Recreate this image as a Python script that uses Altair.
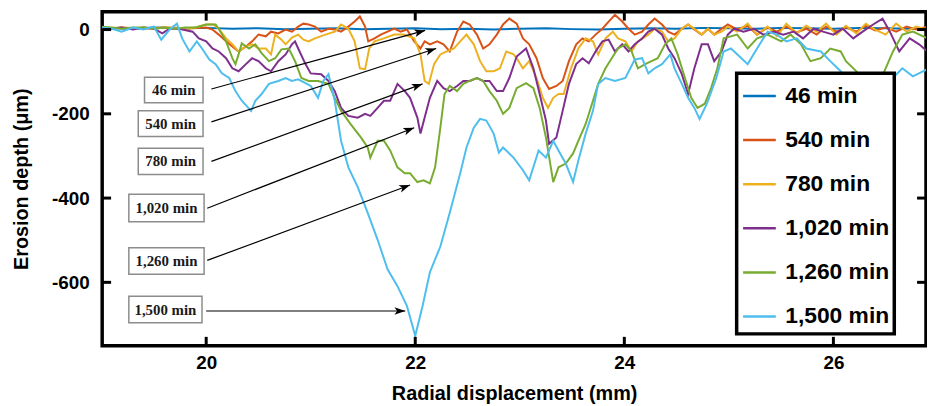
import math
import altair as alt
import pandas as pd

# ---------------- data ----------------
series_names = ["46 min", "540 min", "780 min", "1,020 min", "1,260 min", "1,500 min"]
series_colors = ["#0072BD", "#D95319", "#EDB120", "#7E2F8E", "#77AC30", "#4DBEEE"]

x46 = [19.0, 19.25, 19.5, 19.75, 20.0, 20.25, 20.5, 20.75, 21.0, 21.25, 21.5, 21.75, 22.0, 22.25, 22.5,
       22.75, 23.0, 23.25, 23.5, 23.75, 24.0, 24.25, 24.5, 24.75, 25.0, 25.25, 25.5, 25.75, 26.0, 26.25,
       26.5, 26.75, 26.9]
y46 = [4, 2, 5, 3, 4, 2, 3, 1, 2, 3, 1, 2, 3, 1, 2, 0, 2, 3, 1, 0, 2, 3, 2, 4, 3, 2, 4, 3, 2, 4, 3, 2, 3]

x540 = [19.00, 19.19, 19.40, 19.60, 19.80, 20.00, 20.06, 20.12, 20.19, 20.25, 20.31, 20.38, 20.44, 20.50,
        20.57, 20.62, 20.69, 20.76, 20.82, 20.88, 20.93, 20.98, 21.04, 21.10, 21.17, 21.23, 21.29, 21.36,
        21.42, 21.47, 21.52, 21.55, 21.61, 21.67, 21.735, 21.80, 21.86, 21.92, 21.99, 22.05, 22.09, 22.14,
        22.21, 22.27, 22.33, 22.40, 22.46, 22.52, 22.59, 22.65, 22.71, 22.78, 22.84, 22.90, 22.97, 23.03,
        23.09, 23.16, 23.22, 23.28, 23.35, 23.41, 23.47, 23.54, 23.60, 23.66, 23.725, 23.79, 23.85, 23.91,
        23.98, 24.04, 24.10, 24.17, 24.23, 24.29, 24.36, 24.42, 24.48, 24.55, 24.61, 24.67, 24.74, 24.80,
        24.86, 24.93, 24.99, 25.08, 25.18, 25.27, 25.37, 25.46, 25.55, 25.65, 25.74, 25.84, 25.93, 26.03,
        26.12, 26.22, 26.31, 26.40, 26.50, 26.60, 26.70, 26.79, 26.90]
y540 = [2, 5, 2, 5, 2, 5, 0, -12, -28, -40, -52, -40, -28, -12, -16, -5, -9, 0, -5, 7, 14, 12, 7, -5, 2, 0,
        -5, 7, 19, 31, 7, -28, -21, -12, -5, 2, -5, 0, -28, -45, -28, -35, -28, -35, -52, -5, 19, 12, -12,
        -45, -35, -12, 12, 26, 14, -21, -35, -68, -115, -141, -134, -122, -75, -35, -21, -28, -12, 2, 19,
        35, 19, 2, -12, -5, 12, 26, 12, -5, -12, 2, 12, 0, -12, 2, -12, 2, 12, 0, 9, -12, 5, -5, 7, -7, 2,
        -12, 7, -5, 5, -5, 9, -2, 5, -5, 7, 0, 7]

x780 = [19.00, 19.10, 19.19, 19.30, 19.40, 19.50, 19.60, 19.70, 19.80, 19.90, 20.00, 20.07, 20.12, 20.19,
        20.25, 20.31, 20.38, 20.44, 20.50, 20.57, 20.62, 20.66, 20.72, 20.76, 20.82, 20.88, 20.93, 20.98,
        21.04, 21.14, 21.23, 21.29, 21.36, 21.42, 21.47, 21.52, 21.56, 21.61, 21.70, 21.80, 21.89, 21.99,
        22.05, 22.09, 22.13, 22.18, 22.24, 22.30, 22.37, 22.43, 22.49, 22.56, 22.62, 22.68, 22.75, 22.81,
        22.87, 22.94, 22.97, 23.03, 23.09, 23.16, 23.22, 23.27, 23.32, 23.37, 23.42, 23.49, 23.56, 23.63,
        23.70, 23.75, 23.82, 23.89, 23.94, 24.01, 24.07, 24.13, 24.23, 24.29, 24.36, 24.42, 24.48, 24.55,
        24.61, 24.67, 24.74, 24.80, 24.86, 24.93, 24.99, 25.08, 25.18, 25.27, 25.37, 25.46, 25.55, 25.65,
        25.74, 25.84, 25.93, 26.03, 26.12, 26.22, 26.31, 26.40, 26.50, 26.60, 26.70, 26.79, 26.90]
y780 = [5, 2, 5, 2, 5, 2, 5, 5, 2, 5, 12, 12, 2, -21, -35, -52, -40, -35, -45, -45, -59, -12, -24, -35, -19,
        -12, -24, -28, -21, -12, -5, 12, 2, -28, -92, -94, -45, -28, -21, -12, -12, -21, -59, -122, -129,
        -82, -59, -52, -45, -28, -12, -35, -75, -99, -99, -92, -52, -59, -68, -92, -75, -115, -162, -186,
        -162, -153, -153, -92, -45, -21, -28, -59, -21, -5, -21, -28, -52, -28, -12, 2, -5, -28, -21, 2, 12,
        2, -12, 2, -12, -5, 7, -5, 14, -12, 7, -16, 14, -9, 9, -5, 14, -12, 9, -9, 14, 0, -12, 14, -5, 7, 0]

x1020 = [19.00, 19.10, 19.19, 19.30, 19.40, 19.50, 19.58, 19.65, 19.74, 19.87, 19.93, 20.00, 20.06, 20.12,
         20.19, 20.25, 20.31, 20.38, 20.44, 20.50, 20.57, 20.62, 20.69, 20.76, 20.82, 20.85, 20.88, 20.95,
         21.00, 21.10, 21.17, 21.23, 21.29, 21.36, 21.45, 21.52, 21.57, 21.64, 21.70, 21.76, 21.83, 21.90,
         21.95, 22.02, 22.05, 22.09, 22.14, 22.21, 22.27, 22.33, 22.40, 22.46, 22.52, 22.59, 22.65, 22.71,
         22.78, 22.84, 22.90, 22.97, 23.06, 23.13, 23.19, 23.25, 23.28, 23.35, 23.41, 23.47, 23.54, 23.60,
         23.66, 23.725, 23.79, 23.85, 23.91, 23.98, 24.04, 24.10, 24.17, 24.23, 24.29, 24.36, 24.42, 24.48,
         24.55, 24.61, 24.67, 24.74, 24.80, 24.86, 24.93, 24.99, 25.05, 25.14, 25.24, 25.33, 25.43, 25.52,
         25.62, 25.71, 25.81, 25.90, 26.00, 26.09, 26.19, 26.28, 26.38, 26.47, 26.54, 26.63, 26.73, 26.82,
         26.90]
y1020 = [5, 2, 5, 0, 5, 2, -9, 2, 2, -5, -21, -28, -45, -52, -68, -92, -99, -82, -68, -75, -92, -99, -75,
         -59, -35, -28, -45, -82, -104, -106, -122, -146, -186, -205, -209, -200, -205, -186, -169, -169,
         -129, -146, -162, -209, -247, -209, -162, -122, -139, -146, -134, -122, -122, -115, -122, -122,
         -146, -146, -115, -64, -45, -92, -153, -216, -271, -256, -193, -129, -82, -68, -80, -52, -28, -24,
         -52, -35, -52, -35, -21, -5, 2, -12, -45, -68, -106, -153, -92, -35, -35, -75, -52, -12, 2, -5, 2,
         -12, -5, -12, -5, -21, 2, -5, -12, 2, -21, -5, 12, 26, -5, -52, -21, -35, -52]

x1260 = [19.00, 19.10, 19.19, 19.30, 19.40, 19.50, 19.60, 19.70, 19.80, 19.90, 20.00, 20.09, 20.12, 20.19,
         20.25, 20.28, 20.31, 20.34, 20.41, 20.47, 20.53, 20.60, 20.66, 20.72, 20.79, 20.85, 20.91, 20.98,
         21.07, 21.17, 21.23, 21.29, 21.38, 21.48, 21.545, 21.57, 21.64, 21.70, 21.76, 21.83, 21.90, 21.95,
         22.02, 22.08, 22.14, 22.19, 22.24, 22.28, 22.33, 22.40, 22.46, 22.52, 22.59, 22.65, 22.71, 22.78,
         22.84, 22.90, 22.97, 23.06, 23.13, 23.19, 23.25, 23.32, 23.37, 23.44, 23.51, 23.56, 23.63, 23.70,
         23.75, 23.82, 23.89, 23.94, 24.01, 24.07, 24.13, 24.20, 24.26, 24.32, 24.39, 24.45, 24.51, 24.58,
         24.64, 24.70, 24.77, 24.83, 24.89, 24.95, 25.08, 25.18, 25.27, 25.37, 25.50, 25.59, 25.69, 25.78,
         25.88, 25.97, 26.07, 26.12, 26.22, 26.33, 26.45, 26.50, 26.57, 26.66, 26.76, 26.90]
y1260 = [7, 5, 2, 5, 5, 2, 5, 2, 5, 5, 12, 12, 2, -28, -68, -82, -59, -33, -45, -35, -56, -75, -68, -47,
         -45, -75, -115, -122, -122, -129, -162, -193, -224, -256, -280, -304, -264, -264, -287, -327, -341,
         -341, -362, -358, -365, -327, -233, -153, -134, -146, -129, -122, -115, -122, -146, -169, -200,
         -186, -139, -127, -139, -186, -256, -362, -327, -318, -294, -264, -224, -169, -129, -92, -64, -45,
         -35, -52, -92, -82, -75, -68, -35, -21, -59, -115, -162, -186, -176, -139, -92, -21, -12, -45, -21,
         -12, -28, -12, -35, -75, -68, -45, -52, -75, -99, -140, -120, -92, -52, -12, -5, -21]

x1500 = [19.00, 19.10, 19.19, 19.30, 19.40, 19.50, 19.57, 19.65, 19.72, 19.77, 19.84, 19.91, 19.96, 20.03,
         20.09, 20.15, 20.22, 20.28, 20.34, 20.43, 20.47, 20.53, 20.60, 20.69, 20.76, 20.82, 20.88, 20.95,
         21.00, 21.07, 21.12, 21.17, 21.23, 21.29, 21.36, 21.45, 21.545, 21.64, 21.735, 21.83, 21.92, 22.00,
         22.07, 22.14, 22.24, 22.33, 22.43, 22.49, 22.56, 22.62, 22.68, 22.75, 22.80, 22.84, 22.94, 23.03,
         23.09, 23.18, 23.25, 23.32, 23.37, 23.44, 23.51, 23.56, 23.63, 23.70, 23.75, 23.82, 23.91, 24.01,
         24.10, 24.17, 24.23, 24.29, 24.36, 24.44, 24.48, 24.55, 24.61, 24.67, 24.72, 24.79, 24.88, 24.95,
         25.02, 25.12, 25.18, 25.27, 25.37, 25.46, 25.55, 25.65, 25.74, 25.88, 25.97, 26.07, 26.14, 26.28,
         26.42, 26.54, 26.66, 26.76, 26.90]
y1500 = [5, 2, -5, 5, 0, 7, -24, 0, 14, -21, -52, -28, -45, -71, -82, -104, -115, -146, -169, -193, -169,
         -153, -129, -122, -115, -122, -118, -127, -134, -162, -122, -106, -169, -264, -327, -374, -435,
         -499, -569, -609, -656, -727, -656, -576, -515, -435, -341, -280, -233, -212, -216, -247, -292,
         -280, -304, -334, -358, -287, -304, -264, -287, -318, -362, -311, -247, -193, -129, -115, -122,
         -115, -71, -68, -104, -92, -82, -59, -92, -129, -162, -186, -212, -176, -115, -52, -45, -68, -82,
         -45, -5, -12, -28, -21, -45, -52, -75, -99, -122, -170, -150, -122, -92, -111, -94]

x_ticks = [20, 22, 24, 26]
y_ticks = [0, -200, -400, -600]

# annotation boxes and arrows (data coordinates)
ann_labels = ["46 min", "540 min", "780 min", "1,020 min", "1,260 min", "1,500 min"]
box_x1 = [19.41, 19.35, 19.35, 19.26, 19.26, 19.26]
box_x2 = [19.97, 19.97, 19.97, 19.98, 19.98, 19.96]
box_y1 = [-113, -193, -282, -391, -518, -633]
box_y2 = [-174, -254, -344, -456, -581, -696]
label_x = [19.69, 19.66, 19.66, 19.62, 19.62, 19.61]
label_y = [-144, -224, -313, -424, -549, -665]
tail_x = [20.05, 20.05, 20.05, 20.01, 20.01, 20.00]
tail_y = [-141, -219, -313, -424, -548, -668]
tip_x = [22.095, 22.20, 22.07, 21.99, 21.95, 21.905]
tip_y = [-2, -45, -129, -233, -369, -668]

# ---------------- layout ----------------
W, H = 831, 337
X_DOMAIN = [19.005, 26.886]
Y_DOMAIN = [-750.6, 42.4]

all_x = [x46, x540, x780, x1020, x1260, x1500]
all_y = [y46, y540, y780, y1020, y1260, y1500]
frames = []
for name, xs, ys in zip(series_names, all_x, all_y):
    frames.append(pd.DataFrame({"x": xs, "y": ys, "series": name}))
df = pd.concat(frames, ignore_index=True)

sx = W / (X_DOMAIN[1] - X_DOMAIN[0])
sy = H / (Y_DOMAIN[1] - Y_DOMAIN[0])
angles = []
for a, b, c, d in zip(tail_x, tail_y, tip_x, tip_y):
    angles.append(math.degrees(math.atan2(-(d - b) * sy, (c - a) * sx)) % 360)

ann = pd.DataFrame({
    "label": ann_labels, "bx1": box_x1, "bx2": box_x2, "by1": box_y1, "by2": box_y2,
    "tx": label_x, "ty": label_y, "ax1": tail_x, "ay1": tail_y, "ax2": tip_x, "ay2": tip_y,
    "ang": angles,
})

xscale = alt.Scale(domain=X_DOMAIN, nice=False, zero=False)
yscale = alt.Scale(domain=Y_DOMAIN, nice=False, zero=False)
xaxis = alt.Axis(values=x_ticks, title="Radial displacement (mm)", labelExpr="datum.value + ''")
yaxis = alt.Axis(values=y_ticks, title="Erosion depth (μm)", labelExpr="datum.value + ''")


def X(field):
    return alt.X(field, type="quantitative", scale=xscale, axis=xaxis)


def Y(field):
    return alt.Y(field, type="quantitative", scale=yscale, axis=yaxis)


nb = "\u00a0" * 4
lines = alt.Chart(df).mark_line(strokeWidth=2, clip=True).encode(
    x=X("x"),
    y=Y("y"),
    color=alt.Color(
        "series:N",
        scale=alt.Scale(domain=series_names, range=series_colors),
        legend=alt.Legend(
            orient="none", legendX=640, legendY=62, title=None,
            symbolType="stroke", symbolSize=1089, symbolStrokeWidth=2.5,
            labelFont="Liberation Sans", labelFontWeight="bold", labelFontSize=23,
            labelColor="black", labelOffset=8, padding=5, rowPadding=14.5,
            fillColor="white", strokeColor="black",
            labelExpr="datum.label + '" + nb + "'",
        ),
    ),
)

boxes = alt.Chart(ann).mark_rect(fill="white", stroke="#8c8c8c", strokeWidth=1.5).encode(
    x=X("bx1"), x2="bx2", y=Y("by1"), y2="by2"
)
texts = alt.Chart(ann).mark_text(
    font="Liberation Serif", fontWeight="bold", fontSize=15, color="#1a1a1a", baseline="middle", align="center"
).encode(x=X("tx"), y=Y("ty"), text="label:N")
arrows = alt.Chart(ann).mark_rule(color="black", strokeWidth=1.2).encode(
    x=X("ax1"), y=Y("ay1"), x2="ax2", y2="ay2"
)
heads = alt.Chart(ann).mark_point(
    shape="M0,0L-2,-0.7L-1.5,0L-2,0.7Z", filled=True, size=121, color="black", opacity=1
).encode(x=X("ax2"), y=Y("ay2"), angle=alt.Angle("ang:Q", scale=None))

xt = pd.DataFrame({"t": x_ticks})
yt = pd.DataFrame({"t": y_ticks})
tick_b = alt.Chart(xt).mark_rule(color="black", strokeWidth=3).encode(x=X("t"), y=alt.value(H), y2=alt.value(H - 9))
tick_t = alt.Chart(xt).mark_rule(color="black", strokeWidth=3).encode(x=X("t"), y=alt.value(0), y2=alt.value(9))
tick_l = alt.Chart(yt).mark_rule(color="black", strokeWidth=3).encode(y=Y("t"), x=alt.value(0), x2=alt.value(9))
tick_r = alt.Chart(yt).mark_rule(color="black", strokeWidth=3).encode(y=Y("t"), x=alt.value(W), x2=alt.value(W - 9))

chart = alt.layer(lines, boxes, arrows, heads, texts, tick_b, tick_t, tick_l, tick_r).properties(
    width=W, height=H,
    autosize=alt.AutoSizeParams(type="none"),
    padding={"left": 95, "top": 2, "right": 1, "bottom": 57},
).configure_view(
    stroke="black", strokeWidth=3.5
).configure_axis(
    domain=False, ticks=False, tickSize=0, grid=False,
    labelFont="Liberation Sans", labelFontWeight="bold", labelFontSize=19, labelColor="black",
    titleFont="Liberation Sans", titleFontWeight="bold", titleFontSize=20, titleColor="black",
).configure_axisX(
    labelPadding=8, titlePadding=11
).configure_axisY(
    labelPadding=13, titlePadding=20
).configure_legend(
    strokeWidth=3.5
)

chart.save("out.html", embed_options={"renderer": "svg", "actions": False})
